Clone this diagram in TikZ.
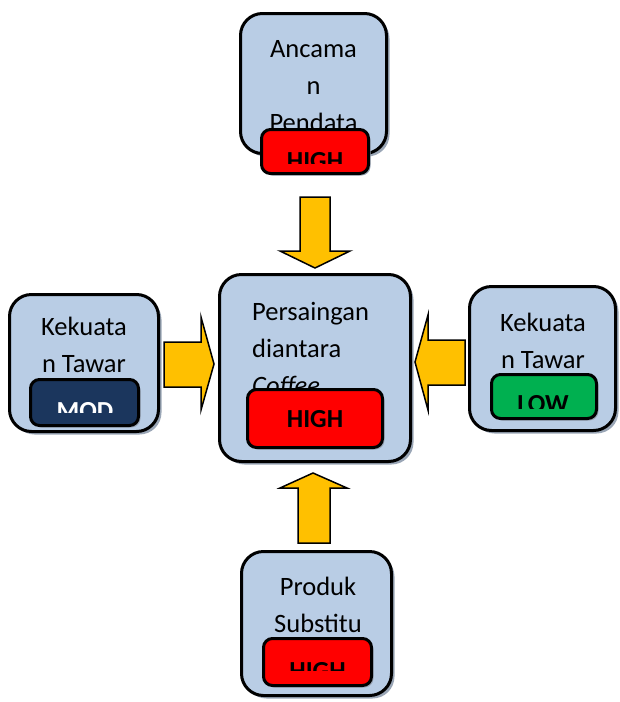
\documentclass[tikz,border=0pt]{standalone}
\usepackage{fontspec}
\setmainfont{Carlito}
\usetikzlibrary{shadows}
\definecolor{biru}{HTML}{B9CDE5}
\definecolor{kuning}{HTML}{FFC000}
\definecolor{merah}{HTML}{FF0000}
\definecolor{hijau}{HTML}{00B050}
\definecolor{navi}{HTML}{1B365D}
\definecolor{bayang}{HTML}{9AA6B6}

\tikzset{
  kotak/.style={draw, line width=3pt, rounded corners=22pt, fill=biru, inner sep=0pt,
    drop shadow={shadow xshift=3pt, shadow yshift=-3pt, fill=bayang, opacity=1}},
  lencana/.style={draw, line width=3pt, rounded corners=9pt, inner sep=0pt,
    drop shadow={shadow xshift=2pt, shadow yshift=-2pt, fill=bayang, opacity=1}},
  panah/.style={draw, line width=1.5pt, fill=kuning, line join=miter},
  teks/.style={font=\fontsize{26.5}{37}\selectfont, anchor=base, inner sep=0pt},
  tebal/.style={font=\fontsize{26}{37}\selectfont\bfseries, anchor=base, inner sep=0pt}
}

\begin{document}
\begin{tikzpicture}[x=1pt, y=-1pt]
    \useasboundingbox (0,0) rectangle (619,702);

    % kotak utama
    \node at (315, 368) (tengah) [kotak, minimum width=191, minimum height=187] {};
    \node at (313.5, 83.5) (atas) [kotak, minimum width=146, minimum height=140] {};
    \node at (84, 363) (kiri) [kotak, minimum width=149, minimum height=137] {};
    \node at (542.5, 358.5) (kanan) [kotak, minimum width=146, minimum height=144] {};
    \node at (316.5, 623.5) (bawah) [kotak, minimum width=150, minimum height=144] {};

    % panah blok
    \draw[panah, shift={(tengah.north)}] (0,-5) -- (35,-22) -- (15,-22) -- (15,-76)
        -- (-15,-76) -- (-15,-22) -- (-35,-22) -- cycle;
    \draw[panah, shift={(tengah.south)}] (-2,10) -- (32,25) -- (15,25) -- (15,80)
        -- (-17,80) -- (-17,25) -- (-35,25) -- cycle;
    \draw[panah, shift={(tengah.west)}] (-4,-4) -- (-17,-51) -- (-17,-26) -- (-54,-26)
        -- (-54,19) -- (-17,19) -- (-17,42) -- cycle;
    \draw[panah, shift={(tengah.east)}] (3,-6) -- (16,-53) -- (16,-28) -- (53,-28)
        -- (53,17) -- (16,17) -- (16,42) -- cycle;

    % teks kotak (base = baris terakhir)
    \node at (313.5, 131) (tAtas) [teks, align=center] {Ancama\\n\\Pendata};
    \node at (84, 372) (tKiri) [teks, align=center] {Kekuata\\n Tawar};
    \node at (543, 368) (tKanan) [teks, align=center] {Kekuata\\n Tawar};
    \node at (318, 632) (tBawah) [teks, align=center] {Produk\\Substitu};
    \node at (252, 394) (tTengah) [teks, align=left, anchor=base west] {Persaingan\\diantara\\\textit{Coffee}};

    % lencana
    \node at (315, 151.5) (atasB) [lencana, fill=merah, minimum width=107, minimum height=44] {};
    \node at (84.5, 402.5) (kiriB) [lencana, fill=navi, minimum width=108, minimum height=46] {};
    \node at (315, 418.5) (tengahB) [lencana, fill=merah, minimum width=135, minimum height=58] {};
    \node at (544, 396.5) (kananB) [lencana, fill=hijau, minimum width=105, minimum height=44] {};
    \node at (317.5, 662) (bawahB) [lencana, fill=merah, minimum width=108, minimum height=47] {};

    \node at (315, 427) (hTengah) [tebal] {HIGH};
    \begin{scope}
      \clip (255,125) rectangle (375,163);
      \node at (315, 169) (hAtas) [tebal] {HIGH};
    \end{scope}
    \begin{scope}
      \clip (25,375) rectangle (145,412);
      \node at (85, 419) (hKiri) [tebal, text=white] {MOD};
    \end{scope}
    \begin{scope}
      \clip (485,370) rectangle (603,408);
      \node at (543, 412) (hKanan) [tebal] {LOW};
    \end{scope}
    \begin{scope}
      \clip (257,634) rectangle (378,670);
      \node at (317.5, 679) (hBawah) [tebal] {HIGH};
    \end{scope}
\end{tikzpicture}
\end{document}
